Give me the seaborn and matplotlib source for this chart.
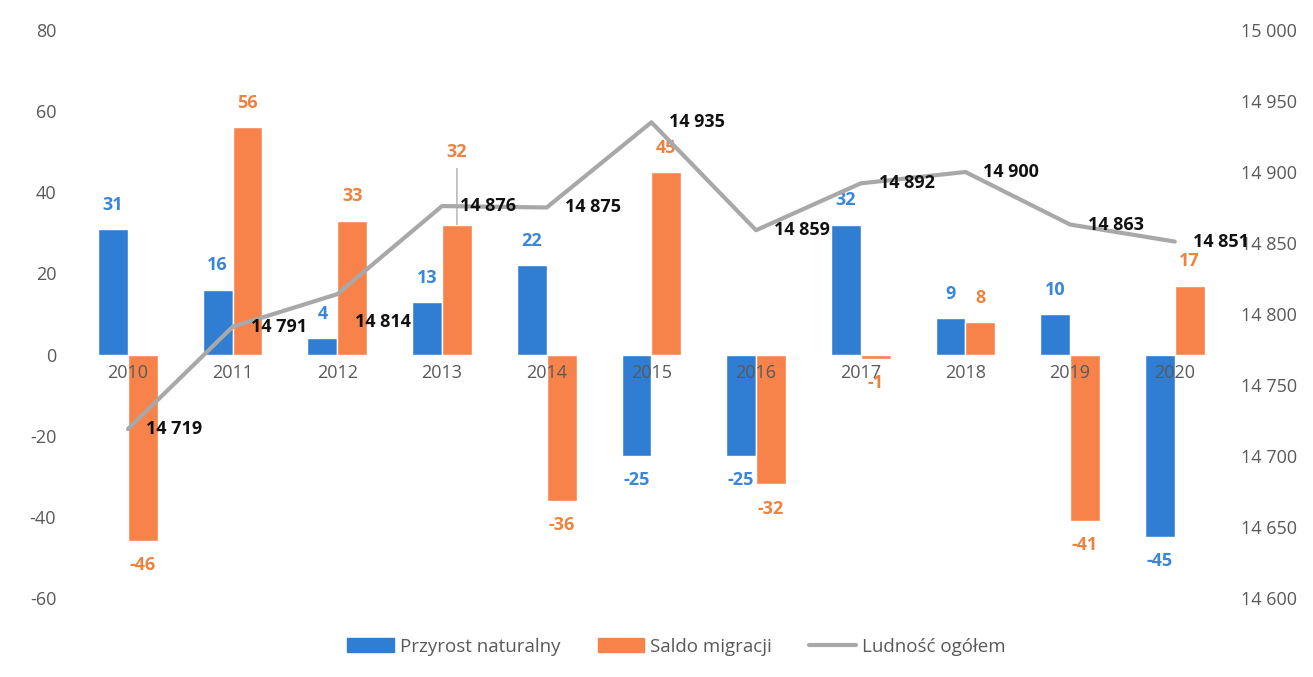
import matplotlib
matplotlib.use("Agg")
import matplotlib.pyplot as plt
from matplotlib.ticker import FuncFormatter
from matplotlib.patches import Patch
from matplotlib.lines import Line2D
import seaborn as sns
import pandas as pd
import numpy as np

years = ["2010", "2011", "2012", "2013", "2014", "2015", "2016", "2017", "2018", "2019", "2020"]
przyrost = [31, 16, 4, 13, 22, -25, -25, 32, 9, 10, -45]
saldo = [-46, 56, 33, 32, -36, 45, -32, -1, 8, -41, 17]
ludnosc = [14719, 14791, 14814, 14876, 14875, 14935, 14859, 14892, 14900, 14863, 14851]

series_names = ["Przyrost naturalny", "Saldo migracji", "Ludność ogółem"]
blue = "#2F7ED3"
orange = "#F7834B"
blue_txt = "#3A86DA"
orange_txt = "#EE823F"
gray_line = "#A8A8A8"
tick_col = "#595959"

sns.set_theme(style="white")
plt.rcParams["font.family"] = ["Open Sans", "DejaVu Sans"]

df = pd.DataFrame({
    "rok": years * 2,
    "wartosc": przyrost + saldo,
    "seria": [series_names[0]] * len(years) + [series_names[1]] * len(years),
})

fig = plt.figure(figsize=(13.13, 6.77), dpi=100)
ax = fig.add_axes([0.0576, 0.1167, 0.877, 0.839])

sns.barplot(data=df, x="rok", y="wartosc", hue="seria", palette=[blue, orange],
            width=0.57, saturation=1, ax=ax, legend=False)

ax.set_axisbelow(False)
ax.set_ylim(-60, 80)
ax.set_xlim(-0.5, len(years) - 0.5)
ax.set_yticks(np.arange(-60, 81, 20))
ax.yaxis.set_major_formatter(FuncFormatter(lambda v, p: f"{int(v)}"))
ax.set_xlabel("")
ax.set_ylabel("")
for s in ax.spines.values():
    s.set_visible(False)
ax.spines["bottom"].set_position(("data", 0))
ax.tick_params(axis="x", length=0, pad=7, labelsize=13, labelcolor=tick_col)
ax.tick_params(axis="y", length=0, pad=14, labelsize=13, labelcolor=tick_col)

# bar value labels; the 2013 migration label sits higher with a leader line
blue_c, orange_c = ax.containers[0], ax.containers[1]
ax.bar_label(blue_c, padding=11, color=blue_txt, fontsize=13, fontweight="bold")
orange_labels = [str(v) for v in saldo]
orange_labels[3] = ""
ax.bar_label(orange_c, labels=orange_labels, padding=11, color=orange_txt,
             fontsize=13, fontweight="bold")
p = orange_c.patches[3]
cx = p.get_x() + p.get_width() / 2
ax.annotate(str(saldo[3]), xy=(cx, saldo[3]), xytext=(0, 46), textcoords="offset points",
            ha="center", va="bottom", fontsize=13, fontweight="bold", color=orange_txt,
            arrowprops=dict(arrowstyle="-", color="#9A9A9A", lw=0.8, shrinkA=3, shrinkB=0))

ax2 = ax.twinx()
sns.lineplot(x=np.arange(len(years)), y=ludnosc, color=gray_line, linewidth=3,
             ax=ax2, zorder=3)
ax2.set_ylim(14600, 15000)
ax2.set_yticks(np.arange(14600, 15001, 50))
ax2.yaxis.set_major_formatter(FuncFormatter(lambda v, p: f"{int(v):,}".replace(",", " ")))
ax2.tick_params(axis="y", length=0, pad=10, labelsize=13, labelcolor=tick_col)
for s in ax2.spines.values():
    s.set_visible(False)

for i, v in enumerate(ludnosc):
    lab = f"{v:,}".replace(",", " ")
    dy = -20 if i == 2 else 0
    ax2.annotate(lab, (i, v), xytext=(13, dy), textcoords="offset points",
                 ha="left", va="center", fontsize=13, fontweight="bold", color="#111111")

handles = [Patch(color=blue), Patch(color=orange), Line2D([], [], color=gray_line, linewidth=3)]
fig.legend(handles, series_names, loc="center", bbox_to_anchor=(0.515, 0.045), ncol=3,
           frameon=False, fontsize=13.5, labelcolor=tick_col, handlelength=2.5,
           handleheight=0.8, columnspacing=2.0, handletextpad=0.3)

fig.savefig("out.png", dpi=100, facecolor="white")
